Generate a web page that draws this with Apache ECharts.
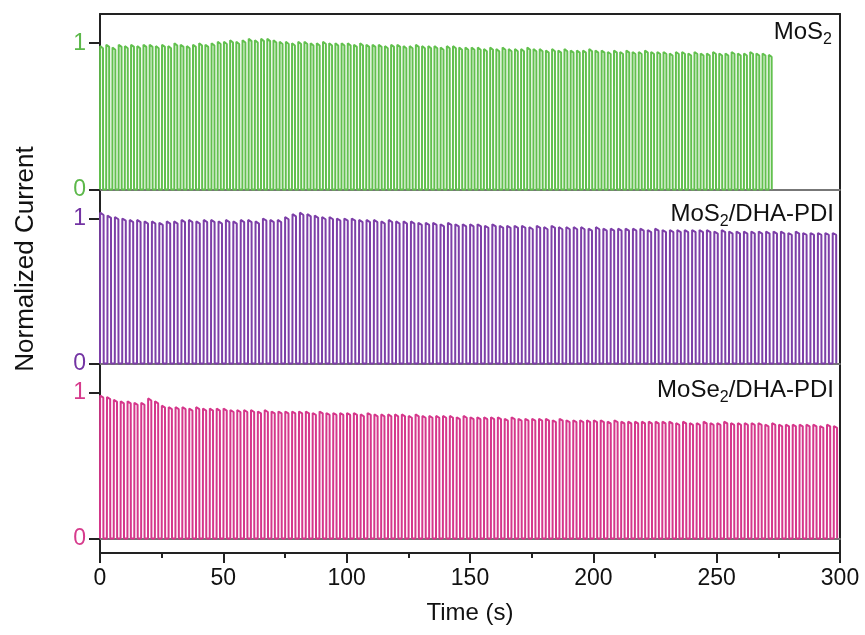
<!DOCTYPE html>
<html>
<head>
<meta charset="utf-8">
<title>Normalized Current</title>
<script src="https://cdn.jsdelivr.net/npm/echarts@6/dist/echarts.min.js"></script>
<style>
  html, body { margin: 0; padding: 0; background: #fff; }
  #main { width: 865px; height: 635px; }
</style>
</head>
<body>
<div id="main"></div>
<script>
// peak current of each light-on cycle
var mos2Peaks = [
  0.98, 0.99, 0.97, 0.99, 0.98, 0.99, 0.98, 0.99, 0.99, 0.98,
  0.99, 0.98, 1.00, 0.99, 0.98, 0.99, 1.00, 0.99, 1.00, 1.01,
  1.01, 1.02, 1.01, 1.02, 1.03, 1.02, 1.03, 1.03, 1.02, 1.01,
  1.01, 1.00, 1.01, 1.01, 1.00, 1.00, 1.01, 1.00, 1.00, 1.00,
  1.00, 0.99, 1.00, 0.99, 0.99, 0.99, 0.98, 0.99, 0.99, 0.98,
  0.98, 0.99, 0.98, 0.98, 0.98, 0.97, 0.98, 0.98, 0.97, 0.97,
  0.97, 0.97, 0.96, 0.97, 0.96, 0.97, 0.96, 0.96, 0.96, 0.97,
  0.96, 0.96, 0.95, 0.96, 0.95, 0.96, 0.95, 0.95, 0.95, 0.96,
  0.95, 0.95, 0.94, 0.95, 0.94, 0.95, 0.94, 0.94, 0.95, 0.94,
  0.94, 0.94, 0.93, 0.94, 0.94, 0.93, 0.94, 0.93, 0.93, 0.94,
  0.93, 0.93, 0.94, 0.93, 0.93, 0.94, 0.93, 0.93, 0.92
];
var mos2PdiPeaks = [
  1.04, 1.02, 1.01, 1.00, 0.99, 0.99, 0.98, 0.98, 0.97, 0.98,
  0.98, 0.99, 0.99, 0.98, 0.99, 0.99, 0.98, 0.99, 0.98, 0.99,
  0.99, 0.98, 1.00, 0.99, 0.99, 1.01, 1.03, 1.04, 1.03, 1.02,
  1.01, 1.01, 1.00, 1.00, 1.00, 0.99, 0.99, 0.99, 0.98, 0.99,
  0.98, 0.98, 0.98, 0.97, 0.97, 0.97, 0.96, 0.97, 0.96, 0.96,
  0.96, 0.96, 0.95, 0.96, 0.95, 0.95, 0.95, 0.95, 0.94, 0.95,
  0.94, 0.95, 0.94, 0.94, 0.94, 0.94, 0.93, 0.94, 0.93, 0.93,
  0.93, 0.93, 0.93, 0.93, 0.92, 0.93, 0.92, 0.92, 0.92, 0.92,
  0.92, 0.92, 0.92, 0.91, 0.92, 0.91, 0.91, 0.91, 0.91, 0.91,
  0.91, 0.91, 0.91, 0.90, 0.91, 0.90, 0.90, 0.90, 0.90, 0.90
];
var mose2PdiPeaks = [
  0.98, 0.97, 0.95, 0.94, 0.94, 0.93, 0.93, 0.96, 0.94, 0.91,
  0.90, 0.90, 0.90, 0.89, 0.90, 0.89, 0.89, 0.89, 0.89, 0.88,
  0.88, 0.88, 0.88, 0.87, 0.88, 0.87, 0.87, 0.87, 0.87, 0.87,
  0.87, 0.86, 0.87, 0.86, 0.86, 0.86, 0.86, 0.86, 0.85, 0.86,
  0.85, 0.85, 0.85, 0.85, 0.85, 0.84, 0.85, 0.84, 0.84, 0.84,
  0.84, 0.84, 0.83, 0.84, 0.83, 0.83, 0.83, 0.83, 0.83, 0.82,
  0.83, 0.82, 0.82, 0.82, 0.82, 0.82, 0.81, 0.82, 0.81, 0.81,
  0.81, 0.81, 0.81, 0.81, 0.80, 0.81, 0.80, 0.80, 0.80, 0.80,
  0.80, 0.80, 0.80, 0.80, 0.79, 0.80, 0.79, 0.79, 0.80, 0.79,
  0.79, 0.80, 0.79, 0.79, 0.79, 0.79, 0.79, 0.78, 0.79, 0.78,
  0.78, 0.78, 0.78, 0.78, 0.78, 0.77, 0.78, 0.77
];
// on/off period of each measurement (s)
var mos2Period = 2.51;
var mos2PdiPeriod = 3.0;
var mose2PdiPeriod = 2.78;

var timeTicks = [0, 50, 100, 150, 200, 250, 300];
var yTicks = [0, 1];

var colors = ['#62c04e', '#7d3fa8', '#d5378b'];
var labelColors = ['#5cb84a', '#7333a3', '#d63b8c'];
var font = "'Liberation Sans', Arial, sans-serif";

// square wave: rise to peak, small decay while lit, drop back to zero
function pulses(peaks, period) {
  var pts = [];
  peaks.forEach(function (p, i) {
    var t0 = i * period;
    var t1 = t0 + period / 2;
    pts.push([t0, 0], [t0 + 0.05, p], [t1 - 0.05, p * 0.985], [t1, 0]);
  });
  return pts;
}

var chart = echarts.init(document.getElementById('main'), null, { renderer: 'canvas' });

var grids = [
  { left: 100, right: 25, top: 14, height: 190 },
  { left: 100, right: 25, top: 204, height: 174 },
  { left: 100, right: 25, top: 378, height: 175 }
];
var yRanges = [[-0.1, 1.2], [-0.1, 1.1], [-0.1, 1.1]];

function zeroLine(gridIndex) {
  return {
    type: 'value', gridIndex: gridIndex, min: 0, max: 300, position: 'bottom',
    axisLine: { show: true, onZero: true, lineStyle: { color: '#777', width: 1.8 } },
    axisTick: { show: false }, axisLabel: { show: false }, splitLine: { show: false }
  };
}

var xAxes = [
  zeroLine(0),
  {
    type: 'value', gridIndex: 0, min: 0, max: 300, position: 'top',
    axisLine: { show: true, onZero: false, lineStyle: { color: '#222', width: 2 } },
    axisTick: { show: false }, axisLabel: { show: false }, splitLine: { show: false }
  },
  zeroLine(1),
  zeroLine(2),
  {
    type: 'value', gridIndex: 2, min: 0, max: 300, interval: 50, position: 'bottom',
    name: 'Time (s)', nameLocation: 'middle', nameGap: 48,
    nameTextStyle: { fontFamily: font, fontSize: 24, color: '#111' },
    axisLine: { show: true, onZero: false, lineStyle: { color: '#222', width: 2 } },
    axisTick: { show: true, length: 10, lineStyle: { color: '#222', width: 2 } },
    minorTick: { show: true, splitNumber: 2, length: 5, lineStyle: { color: '#222', width: 2 } },
    axisLabel: {
      margin: 14, fontFamily: font, fontSize: 23, color: '#111',
      customValues: timeTicks
    },
    splitLine: { show: false }
  }
];

var yAxes = [];
grids.forEach(function (g, i) {
  yAxes.push({
    type: 'value', gridIndex: i, min: yRanges[i][0], max: yRanges[i][1], position: 'left',
    axisLine: { show: true, onZero: false, lineStyle: { color: '#222', width: 2 } },
    axisTick: { show: true, length: 11, customValues: yTicks, lineStyle: { color: '#222', width: 2 } },
    axisLabel: {
      margin: 14, fontFamily: font, fontSize: 23, color: labelColors[i],
      customValues: yTicks
    },
    splitLine: { show: false }
  });
  yAxes.push({
    type: 'value', gridIndex: i, min: yRanges[i][0], max: yRanges[i][1], position: 'right',
    axisLine: { show: true, onZero: false, lineStyle: { color: '#222', width: 2 } },
    axisTick: { show: false }, axisLabel: { show: false }, splitLine: { show: false }
  });
});

var rich = {
  a: { fontFamily: font, fontSize: 24, fontWeight: 'normal', color: '#111', lineHeight: 32 },
  b: { fontFamily: font, fontSize: 16, fontWeight: 'normal', color: '#111', lineHeight: 16, verticalAlign: 'bottom' }
};

var option = {
  animation: false,
  backgroundColor: '#fff',
  grid: grids,
  xAxis: xAxes,
  yAxis: yAxes,
  title: [
    { text: '{a|MoS}{b|2}', right: 28, top: 11, textStyle: { fontWeight: 'normal', rich: rich } },
    { text: '{a|MoS}{b|2}{a|/DHA-PDI}', right: 26, top: 193, textStyle: { fontWeight: 'normal', rich: rich } },
    { text: '{a|MoSe}{b|2}{a|/DHA-PDI}', right: 26, top: 369, textStyle: { fontWeight: 'normal', rich: rich } }
  ],
  graphic: [{
    type: 'text', x: 26, y: 259, rotation: Math.PI / 2,
    style: {
      text: 'Normalized Current', fontFamily: font, fontSize: 26, fill: '#111',
      align: 'center', verticalAlign: 'middle'
    }
  }],
  series: [
    {
      name: 'MoS2', type: 'line', xAxisIndex: 0, yAxisIndex: 0,
      data: pulses(mos2Peaks, mos2Period), showSymbol: false, symbol: 'none',
      lineStyle: { color: colors[0], width: 2 }
    },
    {
      name: 'MoS2/DHA-PDI', type: 'line', xAxisIndex: 2, yAxisIndex: 2,
      data: pulses(mos2PdiPeaks, mos2PdiPeriod), showSymbol: false, symbol: 'none',
      lineStyle: { color: colors[1], width: 2 }
    },
    {
      name: 'MoSe2/DHA-PDI', type: 'line', xAxisIndex: 3, yAxisIndex: 4,
      data: pulses(mose2PdiPeaks, mose2PdiPeriod), showSymbol: false, symbol: 'none',
      lineStyle: { color: colors[2], width: 2 }
    }
  ]
};

chart.setOption(option);
window.addEventListener('resize', function () {
  chart.resize();
});
</script>
</body>
</html>
